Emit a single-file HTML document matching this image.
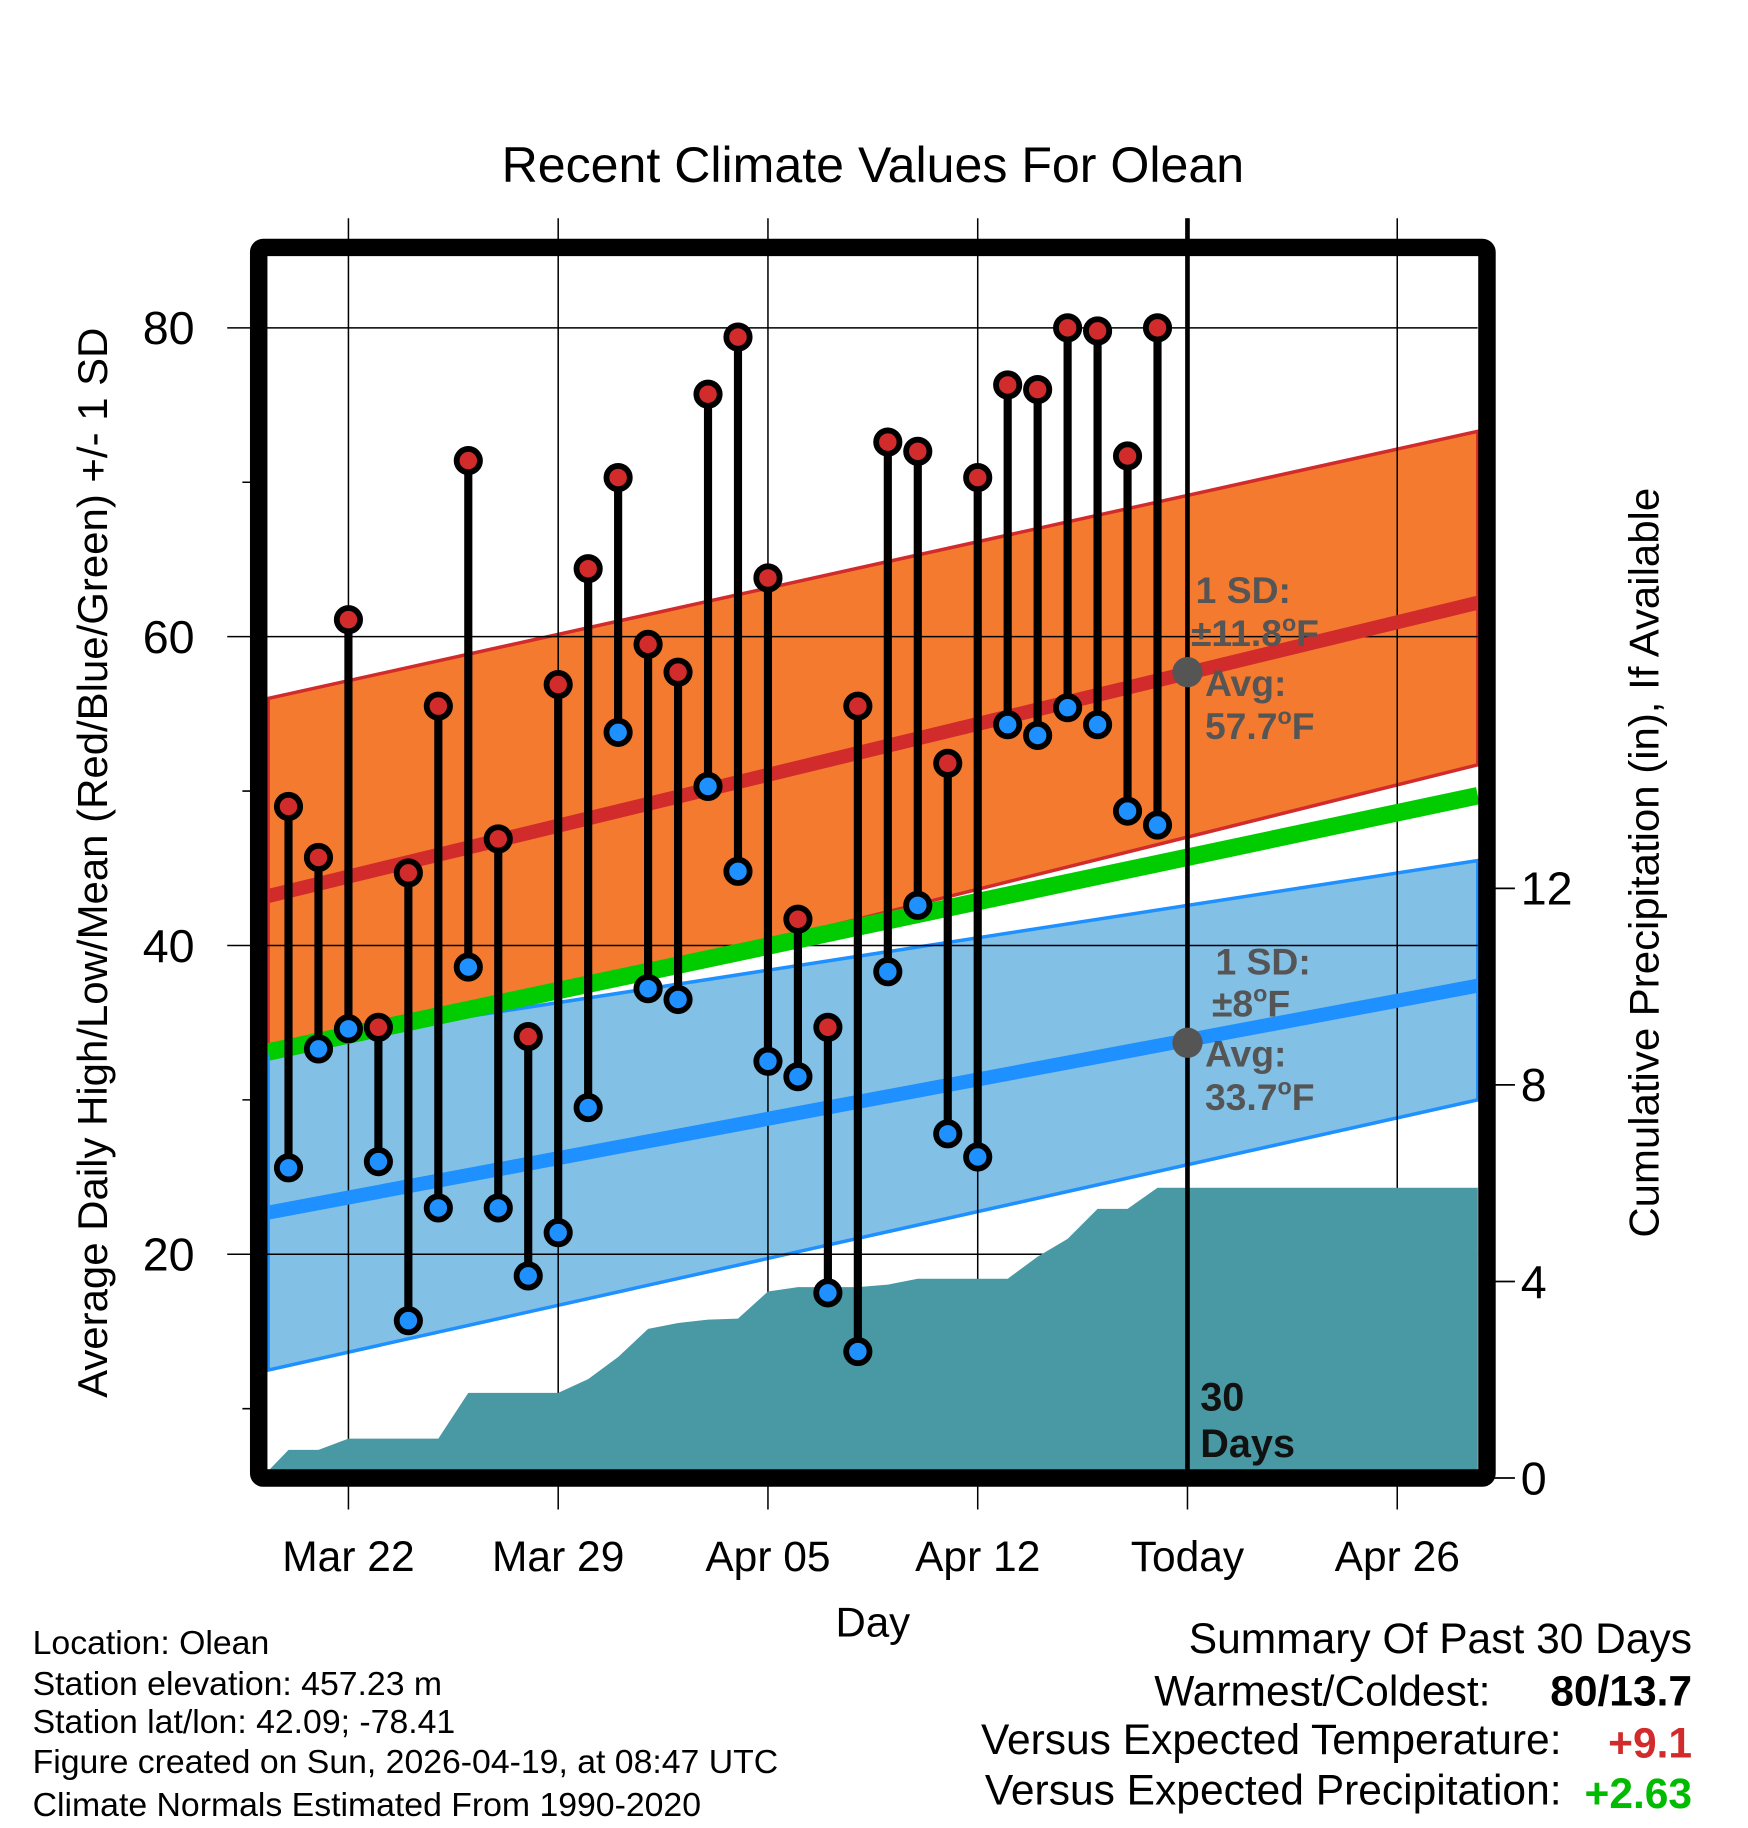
<!DOCTYPE html>
<html><head><meta charset="utf-8"><style>
html,body{margin:0;padding:0;background:#fff;}
svg{display:block;font-family:"Liberation Sans",Arial,sans-serif;}
</style></head><body>
<svg id="chart" width="1748" height="1828" viewBox="0 0 1500 1568" xmlns="http://www.w3.org/2000/svg">
<g id="bands"></g>
<g id="grid"></g>
<g id="precip"></g>
<g id="lines"></g>
<g id="marks"></g>
<g id="frame"></g>
<g id="labels"></g>
</svg>
<script>
const days = [-2,-1,0,1,2,3,4,5,6,7,8,9,10,11,12,13,14,15,16,17,18,19,20,21,22,23,24,25,26,27];
const highs = [49.0,45.7,61.1,34.7,44.7,55.5,71.4,46.9,34.1,56.9,64.4,70.3,59.5,57.7,75.7,79.4,63.8,41.7,34.7,55.5,72.6,72.0,51.8,70.3,76.3,76.0,80.0,79.8,71.7,80.0];
const lows = [25.6,33.3,34.6,26.0,15.7,23.0,38.6,23.0,18.6,21.4,29.5,53.8,37.2,36.5,50.3,44.8,32.5,31.5,17.5,13.7,38.3,42.6,27.8,26.3,54.3,53.6,55.4,54.3,48.7,47.8];
const precip = [0.43,0.43,0.66,0.66,0.66,0.66,1.59,1.59,1.59,1.59,1.87,2.32,2.89,3.01,3.08,3.10,3.65,3.74,3.74,3.74,3.79,3.91,3.91,3.91,3.91,4.36,4.72,5.33,5.33,5.76];
const normDays = [-2.68, 37.69];
const normHigh = [43.2, 62.2];
const normHighUp = [56.0, 73.3];
const normHighLo = [32.2, 51.7];
const normMean = [33.1, 49.7];
const normLow = [22.7, 37.4];
const normLowUp = [33.4, 45.5];
const normLowLo = [12.5, 30.0];
const xTickDays = [0,7,14,21,28,35];
const xTickLabels = ["Mar 22","Mar 29","Apr 05","Apr 12","Today","Apr 26"];
const yTicks = [20,40,60,80];
const yMinor = [10,30,50,70];
const pTicks = [0,4,8,12];

const X = d => 299 + d*180/7;
const Y = v => 281 + (80 - v)*13.25;
const P = v => 1262 - v*42.2;
const PT = v => 1268 - v*42.17;
const NS = "http://www.w3.org/2000/svg";
function mk(parent, tag, attrs, text){
  const e = document.createElementNS(NS, tag);
  for (const k in attrs) e.setAttribute(k, attrs[k]);
  if (text !== undefined) e.textContent = text;
  document.getElementById(parent).appendChild(e);
  return e;
}
const pts = (up, lo) => `${X(normDays[0])},${Y(up[0])} ${X(normDays[1])},${Y(up[1])} ${X(normDays[1])},${Y(lo[1])} ${X(normDays[0])},${Y(lo[0])}`;
let e;
e = mk("bands","polygon",{points:pts(normHighUp,normHighLo),fill:"#F47A30",stroke:"#D22B2B","stroke-width":3});
 
e = mk("bands","polygon",{points:pts(normLowUp,normLowLo),fill:"#82C0E6",stroke:"#1E90FF","stroke-width":3});
 
xTickDays.forEach((d,i)=>{
  e = mk("grid","line",{x1:X(d),x2:X(d),y1:187,y2:1295,stroke:"#000","stroke-width":1.3});
   
  e = mk("labels","text",{x:X(d),y:1348,"text-anchor":"middle","font-size":36.5},xTickLabels[i]);
   
});
yTicks.forEach(v=>{
  e = mk("grid","line",{x1:195,x2:1268,y1:Y(v),y2:Y(v),stroke:"#000","stroke-width":1.3});
   
  e = mk("labels","text",{x:167,y:Y(v)+14,"text-anchor":"end","font-size":40},String(v));
   
});
yMinor.forEach(v=>{
  e = mk("grid","line",{x1:208,x2:222,y1:Y(v),y2:Y(v),stroke:"#000","stroke-width":1.3});
   
});
pTicks.forEach(v=>{
  const yy = PT(v);
  e = mk("grid","line",{x1:1276,x2:1300,y1:yy,y2:yy,stroke:"#000","stroke-width":1.5});
   
  e = mk("labels","text",{x:1305,y:yy+14,"text-anchor":"start","font-size":40},String(v));
   
});
let pp = `${X(normDays[0])},${P(0)} `;
days.forEach((d,i)=>{ pp += `${X(d)},${P(precip[i])} `; });
pp += `${X(normDays[1])},${P(precip[precip.length-1])} ${X(normDays[1])},1262`;
e = mk("precip","polygon",{points:pp,fill:"#4899A4"});
 
const ln = (arr,col,w,name)=>{
  e = mk("lines","line",{x1:X(normDays[0]),y1:Y(arr[0]),x2:X(normDays[1]),y2:Y(arr[1]),stroke:col,"stroke-width":w});
   
};
ln(normMean,"#00CC00",15,"normal-mean-line");
ln(normHigh,"#D22B2B",12,"normal-high-line");
ln(normLow,"#1E90FF",12,"normal-low-line");
e = mk("lines","line",{x1:X(28),x2:X(28),y1:187,y2:1262,stroke:"#000","stroke-width":4});
 
days.forEach((d,i)=>{
  e = mk("marks","line",{x1:X(d),x2:X(d),y1:Y(highs[i]),y2:Y(lows[i]),stroke:"#000","stroke-width":7});
   
  e = mk("marks","circle",{cx:X(d),cy:Y(highs[i]),r:10,fill:"#D22B2B",stroke:"#000","stroke-width":5});
   
  e = mk("marks","circle",{cx:X(d),cy:Y(lows[i]),r:10,fill:"#1E90FF",stroke:"#000","stroke-width":5});
   
});
const todayHigh = 57.7, todayLow = 33.7;
e = mk("marks","circle",{cx:X(28),cy:Y(todayHigh),r:13,fill:"#555"});
 
e = mk("marks","circle",{cx:X(28),cy:Y(todayLow),r:13,fill:"#555"});
 
e = mk("frame","rect",{x:222,y:212,width:1054,height:1056,fill:"none",stroke:"#000","stroke-width":15,rx:4});
 
</script>
<svg style="position:absolute;left:0;top:0" width="1748" height="1828" viewBox="0 0 1500 1568" xmlns="http://www.w3.org/2000/svg" font-family="Liberation Sans, Arial, sans-serif">
<text x="749" y="156" text-anchor="middle" font-size="43">Recent Climate Values For Olean</text>
<text transform="translate(92,740) rotate(-90)" text-anchor="middle" font-size="36">Average Daily High/Low/Mean (Red/Blue/Green) +/- 1 SD</text>
<text transform="translate(1423,740) rotate(-90)" text-anchor="middle" font-size="36">Cumulative Precipitation (in), If Available</text>
<text x="749" y="1404" text-anchor="middle" font-size="36">Day</text>
<g font-size="32" font-weight="bold" fill="#555">
<text x="1026" y="517">1 SD:</text>
<text x="1022" y="554">±11.8<tspan font-size="20" dy="-13">o</tspan><tspan dy="13">F</tspan></text>
<text x="1034" y="597">Avg:</text>
<text x="1034" y="634">57.7<tspan font-size="20" dy="-13">o</tspan><tspan dy="13">F</tspan></text>
</g>
<g font-size="32" font-weight="bold" fill="#555">
<text x="1043" y="836">1 SD:</text>
<text x="1040" y="872">±8<tspan font-size="20" dy="-13">o</tspan><tspan dy="13">F</tspan></text>
<text x="1034" y="915">Avg:</text>
<text x="1034" y="952">33.7<tspan font-size="20" dy="-13">o</tspan><tspan dy="13">F</tspan></text>
</g>
<text font-size="34" font-weight="bold" fill="#111"><tspan x="1030" y="1210">30</tspan><tspan x="1030" y="1250">Days</tspan></text>
<g font-size="29">
<text x="28" y="1419">Location: Olean</text>
<text x="28" y="1454">Station elevation: 457.23 m</text>
<text x="28" y="1487">Station lat/lon: 42.09; -78.41</text>
<text x="28" y="1521">Figure created on Sun, 2026-04-19, at 08:47 UTC</text>
<text x="28" y="1558">Climate Normals Estimated From 1990-2020</text>
</g>
<g font-size="36.5" text-anchor="end">
<text x="1452" y="1418">Summary Of Past 30 Days</text>
<text x="1279" y="1463">Warmest/Coldest:</text>
<text x="1452" y="1463" font-weight="bold">80/13.7</text>
<text x="1340" y="1505">Versus Expected Temperature:</text>
<text x="1452" y="1508" font-weight="bold" fill="#D22B2B">+9.1</text>
<text x="1340" y="1548">Versus Expected Precipitation:</text>
<text x="1452" y="1551" font-weight="bold" fill="#00BB00">+2.63</text>
</g>
</svg>
</body></html>
